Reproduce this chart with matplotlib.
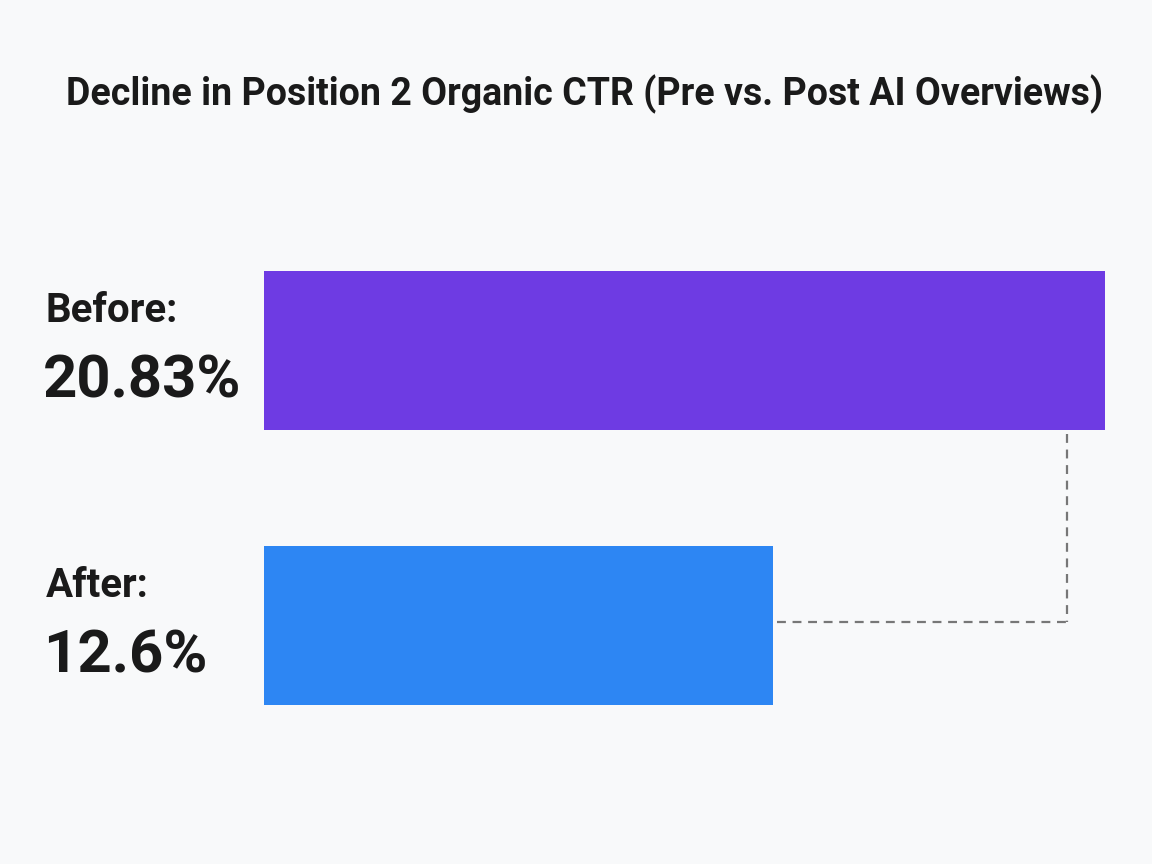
import matplotlib.pyplot as plt
import matplotlib.transforms as mtransforms

labels = ['Before:', 'After:']
values = [20.83, 12.6]
value_text = ['20.83%', '12.6%']
colors = ['#6e3be3', '#2d86f3']

plt.rcParams['font.family'] = ['Roboto', 'DejaVu Sans']

fig = plt.figure(figsize=(11.52, 8.64), dpi=100)
fig.patch.set_facecolor('#f8f9fa')

ax = fig.add_axes([0.229, 0.155, 0.730, 0.556])
ax.set_facecolor('#f8f9fa')
ypos = [0, 1]
ax.barh(ypos, values, height=0.578, color=colors, zorder=2)
ax.set_xlim(0, max(values))
ax.set_ylim(1.38, -0.365)
ax.axis('off')

# dashed connector from the Before bar down to the After bar
vx = values[0] * 0.955
ax.plot([vx, vx], [0.305, 0.986], ls=(0, (4, 3)), color='#777777', lw=1.6, zorder=1)
ax.plot([values[1] + 0.12, vx], [0.986, 0.986], ls=(0, (4, 3)), color='#777777', lw=1.6, zorder=1)

trans = mtransforms.blended_transform_factory(fig.transFigure, ax.transData)
for y, lab, vt in zip(ypos, labels, value_text):
    ax.text(46 / 1152, y - 0.102, lab, transform=trans, fontsize=29, fontweight='bold',
            va='baseline', ha='left', color='#1a1a1a')
    ax.text(43 / 1152, y + 0.171, vt, transform=trans, fontsize=43, fontweight='bold',
            va='baseline', ha='left', color='#1a1a1a')

fig.text(584 / 1152, 1 - 105 / 864, 'Decline in Position 2 Organic CTR (Pre vs. Post AI Overviews)',
         ha='center', va='baseline', fontsize=27, fontweight='bold', color='#1a1a1a')

fig.savefig('out.png', dpi=100, facecolor=fig.get_facecolor())
